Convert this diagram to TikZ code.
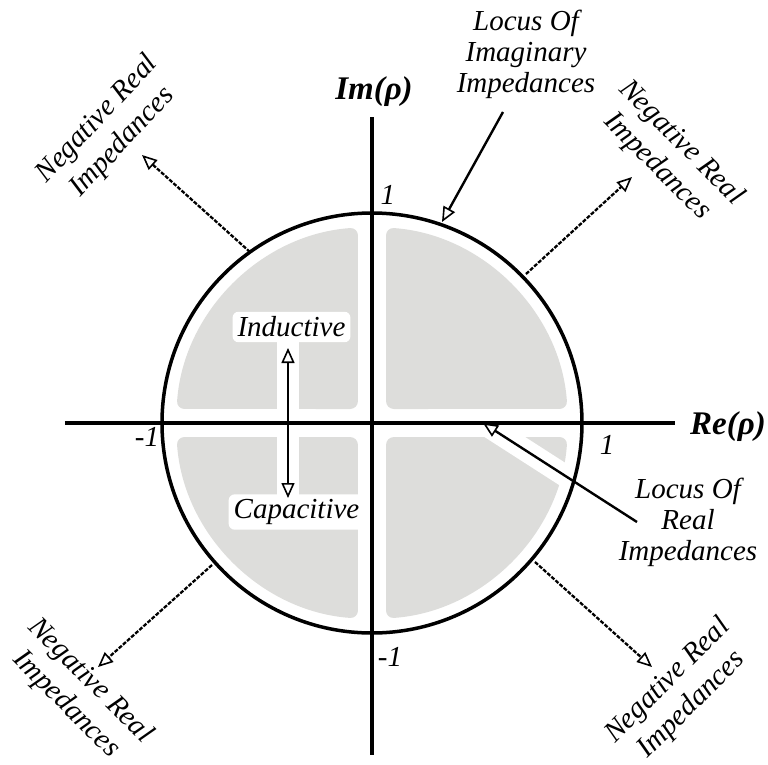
\documentclass[tikz,border=0pt]{standalone}
\usepackage{fontspec}
\setmainfont{Liberation Serif}
\usetikzlibrary{arrows.meta}
\definecolor{graybg}{RGB}{221,221,219}
\begin{document}
\begin{tikzpicture}[x=1pt,y=1pt,
  lbl/.style={font=\fontsize{29}{31}\selectfont\itshape, align=center, inner sep=0pt},
  rlbl/.style={font=\fontsize{29}{34}\selectfont\itshape, align=center, inner sep=0pt},
  axlbl/.style={font=\fontsize{33}{36}\selectfont\bfseries\itshape, inner sep=0pt},
  num/.style={font=\fontsize{29}{31}\selectfont\itshape, inner sep=0pt},
  halolbl/.style={lbl, fill=white, inner sep=5pt, rounded corners=6pt},
  shade/.style={fill=graybg, rounded corners=8pt},
  halo/.style={white, line width=22pt},
  openarrow/.style={-{Triangle[open,length=15pt,width=13pt,line width=1.6pt]}, line width=2.4pt},
  dblarrow/.style={{Triangle[open,length=15pt,width=13pt,line width=1.6pt]}-{Triangle[open,length=15pt,width=13pt,line width=1.6pt]}, line width=2.4pt},
  dasharrow/.style={-{Triangle[open,length=15pt,width=13pt,line width=1.6pt]}, line width=2.3pt, dash pattern=on 4pt off 1.5pt},
]
\useasboundingbox (-372,-341) rectangle (396,423);

% shaded quadrants
\fill[shade] (14,14) -- (14,195.5) arc[start angle=85.9, end angle=4.1, radius=196] -- cycle;
\fill[shade] (-14,14) -- (-14,195.5) arc[start angle=94.1, end angle=175.9, radius=196] -- cycle;
\fill[shade] (-14,-14) -- (-195.5,-14) arc[start angle=184.1, end angle=265.9, radius=196] -- cycle;
\fill[shade] (14,-14) -- (14,-195.5) arc[start angle=274.1, end angle=355.9, radius=196] -- cycle;

% coordinates
\coordinate (indTip) at (-84,75);
\coordinate (capTip) at (-84,-75);
\coordinate (realTip) at (111,0);
\coordinate (realStart) at (265,-99);
\coordinate (imagTip) at (70,201);
\coordinate (imagStart) at (131,311);
\coordinate (ulA) at (-122,171); \coordinate (ulB) at (-230,268);
\coordinate (urA) at (154,149);  \coordinate (urB) at (260,246);
\coordinate (llA) at (-160,-142); \coordinate (llB) at (-274,-244);
\coordinate (lrA) at (163,-139); \coordinate (lrB) at (280,-244);
\coordinate (axL) at (-307,0); \coordinate (axR) at (303,0);
\coordinate (axT) at (0,306); \coordinate (axB) at (0,-332);

% halos
\draw[halo] (-84,100) -- (-84,-100);
\draw[halo] (realTip) -- (realStart);
\node[halolbl] (ind) at (-80.5,96) {Inductive};
\node[halolbl] (cap) at (-75.5,-89) {Capacitive};

% circle and axes
\node[circle, draw, line width=3.5pt, minimum size=420pt, inner sep=0pt] (C) at (0,0) {};
\draw[line width=4pt] (axL) -- (axR);
\draw[line width=4pt] (axT) -- (axB);

% arrows
\draw[dblarrow] (indTip) -- (capTip);
\draw[openarrow] (realStart) -- (realTip);
\draw[openarrow] (imagStart) -- (imagTip);
\draw[dasharrow] (ulA) -- (ulB);
\draw[dasharrow] (urA) -- (urB);
\draw[dasharrow] (llA) -- (llB);
\draw[dasharrow] (lrA) -- (lrB);

% labels
\node[axlbl] (im) at (2,331) {Im(ρ)};
\node[axlbl] (re) at (356,-4) {Re(ρ)};
\node[num] (n1) at (16,228) {1};
\node[num] (n2) at (-225,-14) {-1};
\node[num] (n3) at (235,-22) {1};
\node[num] (n4) at (18,-234) {-1};
\node[lbl] (limag) at (154,369) {Locus Of\\Imaginary\\Impedances};
\node[lbl] (lreal) at (316,-99) {Locus Of\\Real\\Impedances};
\node[rlbl, rotate=47] (nul) at (-262,292) {Negative Real\\Impedances};
\node[rlbl, rotate=-45] (nur) at (297,268) {Negative Real\\Impedances};
\node[rlbl, rotate=-45] (nll) at (-294,-270) {Negative Real\\Impedances};
\node[rlbl, rotate=45] (nlr) at (308,-270) {Negative Real\\Impedances};
\end{tikzpicture}
\end{document}
